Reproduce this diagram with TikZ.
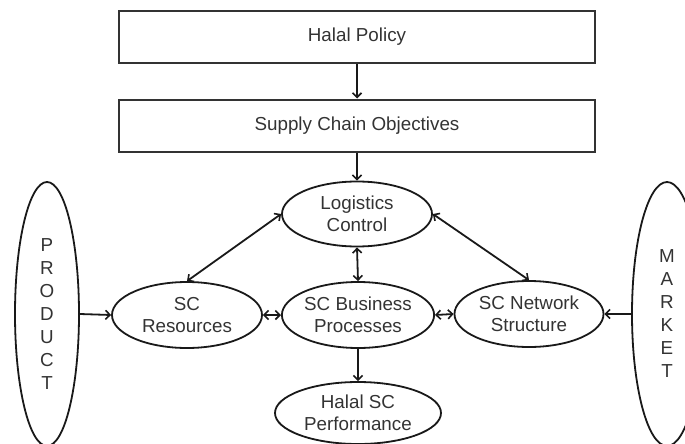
\documentclass[tikz,border=0pt]{standalone}
\usepackage{fontspec}
\setmainfont{Liberation Sans}
\usetikzlibrary{shapes.geometric,arrows.meta}
\begin{document}
\begin{tikzpicture}[x=1pt,y=-1pt,
  every node/.style={font=\fontsize{18.8}{22}\selectfont, text=black!80},
  box/.style={draw=black!80, line width=2pt, minimum width=476pt, minimum height=52pt, inner sep=0pt},
  ell/.style={ellipse, draw=black!90, line width=1.8pt, inner sep=0pt, align=center},
  tip/.style={},
  conn/.style={line width=1.8pt, draw=black!90, -{Straight Barb[length=4.5pt,width=9pt,line width=1.6pt]}},
  dconn/.style={line width=1.8pt, draw=black!90, {Straight Barb[length=4.5pt,width=9pt,line width=1.6pt]}-{Straight Barb[length=4.5pt,width=9pt,line width=1.6pt]}}
]
\useasboundingbox (0,0) rectangle (685,444);
\clip (0,0) rectangle (685,444);
\node[box] (hp) at (357,37) {Halal Policy};
\node[box] (sco) at (357,125.5) {Supply Chain Objectives};
\node[ell, minimum width=150pt, minimum height=65pt] (lc) at (357,214) {Logistics\\Control};
\node[ell, minimum width=150pt, minimum height=66pt] (scr) at (187,315) {SC\\Resources};
\node[ell, minimum width=149pt, minimum height=66pt] (scbp) at (358,315) {SC Business\\Processes};
\node[ell, minimum width=149pt, minimum height=66pt] (scn) at (529,314) {SC Network\\Structure};
\node[ell, minimum width=166pt, minimum height=62pt] (hsp) at (358,413) {Halal SC\\Performance};
\node[ell, minimum width=64pt, minimum height=264pt, font=\fontsize{18.8}{23}\selectfont] (prod) at (47,314) {P\\R\\O\\D\\U\\C\\T};
\node[ell, minimum width=70pt, minimum height=264pt, font=\fontsize{18.8}{23}\selectfont] (mkt) at (667,314) {M\\A\\R\\K\\E\\T};
\draw[conn] (hp.south) -- (sco.north);
\draw[conn] (sco.south) -- (lc.north);
\draw[dconn] (lc.west) -- (scr.north);
\draw[dconn] (lc.east) -- (scn.north);
\draw[dconn] (lc.south) -- (scbp.north);
\draw[dconn] (scr.east) -- (scbp.west);
\draw[dconn] (scbp.east) -- (scn.west);
\draw[conn] (prod.east) -- (scr.west);
\draw[conn] (mkt.west) -- (scn.east);
\draw[conn] (scbp.south) -- (hsp.north);
\end{tikzpicture}
\end{document}
